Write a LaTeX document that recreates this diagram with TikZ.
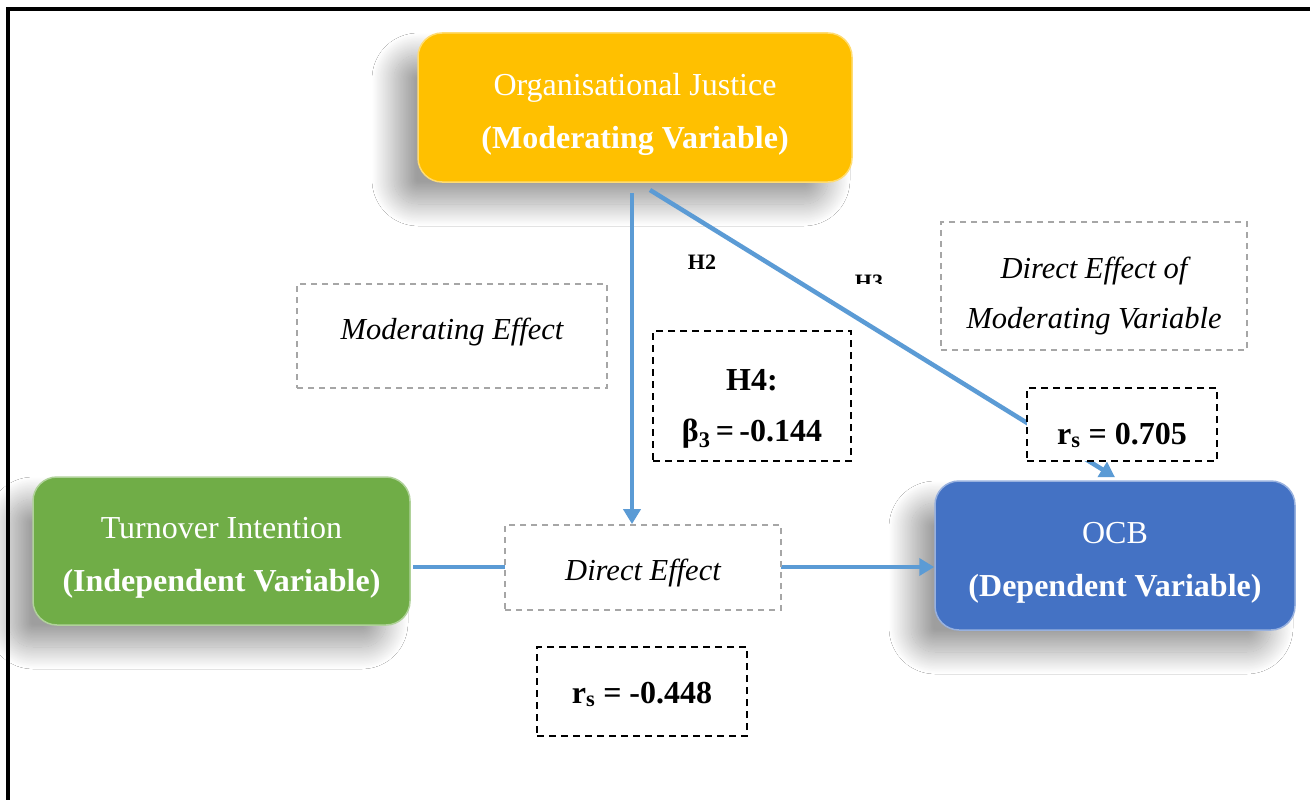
\documentclass[tikz,border=0pt]{standalone}
\usepackage{fontspec}
\setmainfont{Liberation Serif}
\usetikzlibrary{arrows.meta,shadows.blur,calc}
\definecolor{ojc}{HTML}{FFC000}
\definecolor{tic}{HTML}{70AD47}
\definecolor{ocbc}{HTML}{4472C4}
\definecolor{arrc}{HTML}{5B9BD5}
\definecolor{grayd}{HTML}{A6A6A6}
\tikzset{
  varbox/.style={rounded corners=24pt, line width=1.5pt,
     blur shadow={shadow xshift=-24pt, shadow yshift=-22pt, shadow blur radius=22pt, shadow blur steps=40, shadow opacity=38}},
  vartext/.style={text=white, align=center, font=\fontsize{32}{53}\selectfont, inner sep=0pt},
  graybox/.style={draw=grayd, fill=white, dash pattern=on 6pt off 5pt, line width=1.8pt},
  graytext/.style={align=center, font=\fontsize{30.5}{50}\selectfont\itshape, inner sep=0pt},
  blackbox/.style={draw=black, fill=white, dash pattern=on 7pt off 5pt, line width=2pt},
  blacktext/.style={align=center, font=\fontsize{32}{51}\selectfont\bfseries, inner sep=0pt},
  conn/.style={draw=arrc, line width=4.5pt, -{Triangle[length=15pt,width=17pt]}},
  lbl/.style={font=\fontsize{22}{24}\selectfont\bfseries, inner sep=0pt}
}
\begin{document}
\begin{tikzpicture}[x=1pt,y=-1pt]
\useasboundingbox (0,0) rectangle (1310,800);
\fill[white] (0,0) rectangle (1310,800);
% frame
\draw[line width=4pt] (8,800) -- (8,9) -- (1310,9);
\coordinate (vs) at (632,193);
\coordinate (ds) at (650,190);
\coordinate (hs) at (413,567);
% variable boxes
\node[varbox, fill=ojc, draw=ojc!55!white, minimum width=434pt, minimum height=149pt] (oj) at (635,107.5) {};
\node[vartext] (ojt) at ($(oj.center)+(0,7)$) {Organisational Justice\\\textbf{(Moderating Variable)}};
\node[varbox, fill=tic, draw=tic!55!white, minimum width=377pt, minimum height=148pt] (ti) at (221.5,551) {};
\node[vartext] (tit) at ($(ti.center)+(0,7)$) {Turnover Intention\\\textbf{(Independent Variable)}};
\node[varbox, fill=ocbc, draw=ocbc!55!white, minimum width=360pt, minimum height=149pt] (ocb) at (1115,555.5) {};
\node[vartext] (ocbt) at ($(ocb.center)+(0,7)$) {OCB\\\textbf{(Dependent Variable)}};
% connectors (boxes drawn over them)
\coordinate (de0) at (643,567.5);
\draw[conn] (hs) -- (hs -| ocb.west);
\draw[conn] (ds) -- ($(ocb.north)+(0,-3)$);
\node[graybox, minimum width=276pt, minimum height=85pt] (de) at (de0) {};
\node[graytext] (det) at ($(de.center)+(0,6)$) {Direct Effect};
\draw[conn] (vs) -- (vs |- de.north);
\node[graybox, minimum width=310pt, minimum height=104pt] (me) at (452,336) {};
\node[graytext] (met) at ($(me.center)+(0,-4)$) {Moderating Effect};
\node[graybox, minimum width=306pt, minimum height=128pt] (dem) at (1094,286) {};
\node[graytext] (demt) at ($(dem.center)+(0,10)$) {Direct Effect of\\Moderating Variable};
\node[blackbox, minimum width=198pt, minimum height=130pt] (h4) at (752,396) {};
\node[blacktext] (h4t) at ($(h4.center)+(0,13)$) {H4:\\β\textsubscript{3}\,=\,-0.144};
\node[blackbox, minimum width=190pt, minimum height=73pt] (r1) at (1122,424.5) {};
\node[blacktext] (r1t) at ($(r1.center)+(0,11)$) {r\textsubscript{s} = 0.705};
\node[blackbox, minimum width=210pt, minimum height=89pt] (r2) at (642,691.5) {};
\node[blacktext] (r2t) at ($(r2.center)+(0,3)$) {r\textsubscript{s} = -0.448};
\node[lbl] (h2) at (702,262) {H2};
\begin{scope}
\clip (840,268) rectangle (900,283);
\node[lbl, anchor=north] (h3) at (869,275) {H3};
\end{scope}
\end{tikzpicture}
\end{document}
